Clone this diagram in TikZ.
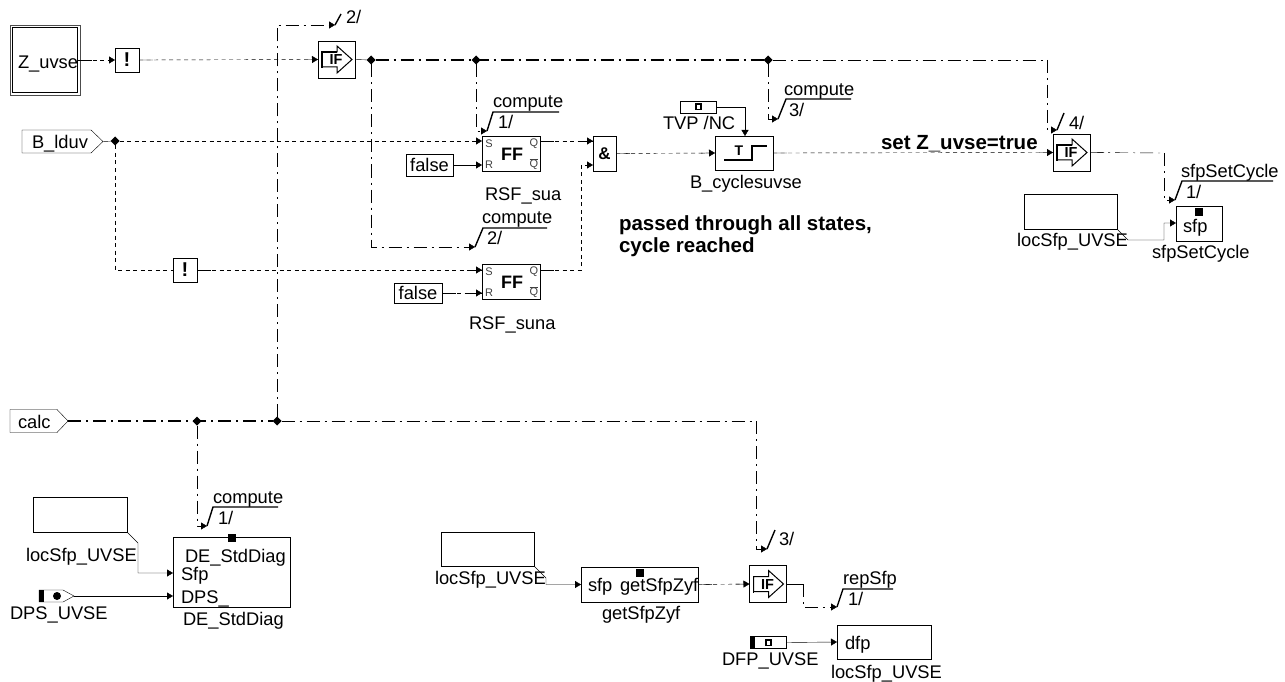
\documentclass[tikz,border=0pt]{standalone}
\usepackage{fontspec}
\setmainfont{Liberation Sans}
\usetikzlibrary{arrows.meta,calc,shapes.geometric}
\tikzset{
  x=1pt,y=-1pt,
  line width=1.4pt,
  blk/.style={draw,rectangle,inner sep=0pt,outer sep=0pt},
  txt/.style={inner sep=0pt,outer sep=0pt,font=\fontsize{18.3}{20}\selectfont},
  bold/.style={inner sep=0pt,outer sep=0pt,font=\fontsize{20.5}{22}\selectfont\bfseries},
  tiny/.style={inner sep=0pt,outer sep=0pt,text=black!75,font=\fontsize{11}{12}\selectfont},
  junc/.style={fill=black,shape=diamond,aspect=1,inner sep=0pt,outer sep=0pt,minimum size=9pt},
  tip/.style={-{Triangle[length=6pt,width=7pt]}},
  data/.style={dash pattern=on 4pt off 3.5pt},
  ctrl/.style={dash pattern=on 13pt off 5pt on 2pt off 5pt},
  ctrlb/.style={ctrl,line width=2pt},
  slash/.style={line width=1.4pt},
}
% box: name, x1,y1,x2,y2, text
\newcommand\bx[6]{\node[blk,anchor=north west,minimum width={(#4-#2)*1pt},minimum height={(#5-#3)*1pt}] (#1) at (#2,#3) {#6};}
\newcommand\lb[4]{\node[txt,anchor=mid west] (#1) at (#2,#3+4) {#4};}
% solid stub at the start of a dashed wire
\newcommand\stub[2]{\draw (#1) -- ($(#1)!14pt!(#2)$);}
% IF block with arrow icon, name, x1, y1
\newcommand\ifblk[3]{%
  \bx{#1}{#2}{#3}{#2+37}{#3+37}{}
  \draw[line width=1pt] ($(#1.north west)+(4,11)$) -- ++(15,0) -- ++(0,-6) -- ++(15,13.5) -- ++(-15,13.5) -- ++(0,-6) -- ++(-15,0) -- cycle;
  \draw[line width=1.8pt] ($(#1.north west)+(4,27)$) -- ++(0,-16) -- ++(15,0);
  \node[inner sep=0pt,font=\fontsize{14.5}{15}\selectfont\bfseries] at ($(#1.north west)+(18,19)$) {IF};
}
% FF block
\newcommand\ffblk[3]{%
  \bx{#1}{#2}{#3}{#2+58}{#3+35}{}
  \node[inner sep=0pt,font=\fontsize{18}{18}\selectfont\bfseries] at ($(#1.north west)+(30,18)$) {FF};
  \node[tiny] at ($(#1.north west)+(7,8)$) {S};
  \node[tiny] at ($(#1.north west)+(7,29)$) {R};
  \node[tiny] at ($(#1.north west)+(52,8)$) {Q};
  \node[tiny] at ($(#1.north west)+(52,28)$) {$\overline{\mbox{Q}}$};
}
% small value icon
\newcommand\icon[2]{%
  \fill (#1-3.5,#2-3.5) rectangle (#1+3.5,#2+3.5);
  \fill[white] (#1-1.5,#2-1.5) rectangle (#1+1.5,#2+2);
}
\begin{document}
\begin{tikzpicture}
\useasboundingbox (0,0) rectangle (1285,682);

% ---- blocks top
\bx{zuvse}{12.5}{27.5}{77.5}{92.5}{}
\draw[draw=black!70] (10.5,25) rectangle (80,95);
\lb{zuvsel}{18}{62}{Z\_uvse}
\bx{nota}{115}{48}{139}{72}{\fontsize{20}{20}\selectfont\bfseries !}
\ifblk{ifa}{318}{41}
\node[junc] (ja) at (371,60) {};
\node[junc] (jb) at (476,60) {};
\node[junc] (jc) at (768,60) {};

\draw (22,130) -- (91,130) -- (103,141.5) -- (91,153) -- (22,153) -- cycle;
\coordinate (blduv) at (103,141.5);
\lb{blduvl}{32}{142}{B\_lduv}
\node[junc] (jd) at (115,141) {};
\bx{notb}{173}{258}{197}{282}{\fontsize{20}{20}\selectfont\bfseries !}

\ffblk{ffa}{482}{136}
\ffblk{ffb}{482}{264}
\coordinate (ffaS) at (482,141);
\coordinate (ffaR) at (482,165);
\coordinate (ffaQ) at (540,141);
\coordinate (ffbS) at (482,270);
\coordinate (ffbR) at (482,293);
\coordinate (ffbQ) at (540,270);
\bx{fa}{406}{154}{453}{176}{\fontsize{18.3}{20}\selectfont false}
\bx{fb}{394}{283}{442}{303}{\fontsize{18.3}{20}\selectfont false}
\lb{rsfa}{485}{194}{RSF\_sua}
\lb{rsfb}{469}{323}{RSF\_suna}

\bx{andb}{593}{136}{616}{171}{\fontsize{17}{17}\selectfont\bfseries \&}
\coordinate (andA) at (593,141);
\coordinate (andB) at (593,165);

\bx{tb}{715}{136}{773}{170}{}
\draw[line width=1.8pt] (724,160) -- (752,160) -- (752,146) -- (767,146);
\node[inner sep=0pt,font=\fontsize{14}{14}\selectfont\bfseries] (tbT) at (739,151) {T};
\bx{tvp}{680}{101}{716}{113}{}
\icon{698}{107}
\lb{tvpl}{663}{123}{TVP /NC}
\coordinate (tvpk) at (745,107);
\coordinate (tbN) at (745,136);
\lb{bcy}{690}{182}{B\_cyclesuvse}

\ifblk{ifc}{1053}{134}
\node[bold,anchor=mid west] (setz) at (881,147) {set Z\_uvse=true};
\node[bold,anchor=mid west] (pa) at (619,228) {passed through all states,};
\node[bold,anchor=mid west] (pb) at (619,250) {cycle reached};

\bx{sfp}{1176}{206}{1222}{241}{}
\fill (1195,208) rectangle (1203,216);
\lb{sfpl}{1183}{226}{sfp}
\lb{sfpn}{1152}{252}{sfpSetCycle}
\coordinate (sfpW) at (1176,223);
\bx{loca}{1024}{194}{1117}{229}{}
\lb{locb}{1017}{240}{locSfp\_UVSE}

% ---- blocks bottom
\draw (10,409.5) -- (57,409.5) -- (68,421) -- (57,432.5) -- (10,432.5) -- cycle;
\coordinate (calc) at (68,421);
\lb{calcl}{18}{422}{calc}
\node[junc] (je) at (197,421) {};
\node[junc] (jf) at (277,421) {};

\bx{locc}{33}{497}{127}{532}{}
\lb{locd}{26}{555}{locSfp\_UVSE}
\bx{de}{173}{537}{290}{607}{}
\fill (228,534) rectangle (236,542);
\lb{dea}{185}{556}{DE\_StdDiag}
\lb{deb}{181}{574}{Sfp}
\lb{dec}{181}{597}{DPS\_}
\lb{ded}{183}{619}{DE\_StdDiag}
\coordinate (deS) at (173,573);
\coordinate (deD) at (173,596);

\draw (39,590) -- (63,590) -- (74,596) -- (63,602) -- (39,602) -- cycle;
\fill (39,590) rectangle (44,602);
\fill (57,596) circle (4);
\coordinate (dps) at (74,596);
\lb{dpsl}{10}{613}{DPS\_UVSE}

\bx{loce}{441}{532}{534}{566}{}
\lb{locf}{435}{578}{locSfp\_UVSE}
\bx{gs}{581}{567}{698}{602}{}
\fill (636,569) rectangle (644,577);
\lb{gsa}{588}{585}{sfp}
\lb{gsb}{620}{585}{getSfpZyf}
\lb{gsc}{602}{613}{getSfpZyf}
\ifblk{ifd}{749.5}{565.5}

\draw (750,636.5) rectangle (786,648.5);
\node[inner sep=0pt,outer sep=0pt,minimum width=36pt,minimum height=12pt] (dfpb) at (768,642.5) {};
\fill (750,636.5) rectangle (755,648.5);
\icon{768}{642.5}
\lb{dfpl}{722}{659}{DFP\_UVSE}
\bx{dfp}{837}{625}{931}{659}{}
\lb{dfpt}{845}{643}{dfp}
\lb{dfpn}{831}{672}{locSfp\_UVSE}

% ---- connectors top
\draw[tip,data] (zuvse.east) -- (nota.west);
\stub{zuvse.east}{nota.west}
\draw[tip,data] (nota.east) -- (ifa.west);
\stub{nota.east}{ifa.west}\stub{ifa.west}{nota.east}
\draw (ifa.east) -- (ja);
\draw[ctrlb] (ja) -- (jc);
\coordinate (cf) at (1047,60);
\draw[ctrl] (jc) -- (cf);
\draw (blduv) -- (jd);
\draw[tip,data] (jd) -- (ffaS);
\draw[data] (jd) |- (notb.west);
\draw[tip,data] (notb.east) -- (ffbS);
\stub{notb.east}{ffbS}\stub{ffbS}{notb.east}
\draw[tip] (fa.east) -- (ffaR);
\draw[tip,data] (fb.east) -- (ffbR);
\stub{fb.east}{ffbR}\stub{ffbR}{fb.east}
\draw[tip,data] (ffaQ) -- (andA);
\stub{ffaQ}{andA}\stub{andA}{ffaQ}
\coordinate (andk) at (581,270);
\draw[tip,data] (ffbQ) -- (andk) |- (andB);
\stub{ffbQ}{andk}
\draw[tip,data] (andb.east) -- (tb.west);
\stub{andb.east}{tb.west}\stub{tb.west}{andb.east}
\draw[tip,data] (tb.east) -- (ifc.west);
\stub{tb.east}{ifc.west}\stub{ifc.west}{tb.east}
\draw[tip] (tvp.east) -- (tvpk) -- (tbN);
\coordinate (ifck) at (1164,153);
\draw[ctrl] (ifc.east) -- (ifck);
\stub{ifc.east}{ifck}
% compute 1
\coordinate (c1a) at (487,131); \coordinate (c1b) at (493,112); \coordinate (c1c) at (559,112);
\draw[tip,ctrl] (jb) |- (c1a);
\draw[slash] (c1a) -- (c1b) -- (c1c);
\lb{c1l}{493}{101}{compute}
\lb{c1n}{498}{122}{1/}
% compute 2
\coordinate (c2a) at (475,247); \coordinate (c2b) at (483,228); \coordinate (c2c) at (547,228);
\draw[tip,ctrl] (ja) |- (c2a);
\draw[slash] (c2a) -- (c2b) -- (c2c);
\lb{c2l}{482}{217}{compute}
\lb{c2n}{487}{238}{2/}
% compute 3
\coordinate (c3a) at (778,119); \coordinate (c3b) at (786,99); \coordinate (c3c) at (851,99);
\draw[tip,ctrl] (jc) |- (c3a);
\draw[slash] (c3a) -- (c3b) -- (c3c);
\lb{c3l}{784}{89}{compute}
\lb{c3n}{789}{110}{3/}
% 4/
\coordinate (c4a) at (1057,130); \coordinate (c4b) at (1064,113);
\draw[tip,ctrl] (cf) |- (c4a);
\draw[slash] (c4a) -- (c4b);
\lb{c4n}{1069}{123}{4/}
% sfpSetCycle
\coordinate (c5a) at (1175,200); \coordinate (c5b) at (1182,181); \coordinate (c5c) at (1273,181);
\draw[tip,ctrl] (ifck) |- (c5a);
\draw[slash] (c5a) -- (c5b) -- (c5c);
\lb{c5l}{1181}{171}{sfpSetCycle}
\lb{c5n}{1186}{192}{1/}
% loc -> sfp
\coordinate (la) at (1128,240); \coordinate (lb) at (1164,240); \coordinate (lc) at (1164,223);
\draw[tip] (loca.south east) -- (la) -- (lb) -- (lc) -- (sfpW);

% ---- connectors bottom
\draw[ctrlb] (calc) -- (jf);
\coordinate (jg) at (756,421);
\draw[ctrl] (jf) -- (jg);
% 2/
\coordinate (t2a) at (335,25); \coordinate (t2b) at (341,14);
\draw[tip,ctrl] (jf) |- (t2a);
\draw[slash] (t2a) -- (t2b);
\lb{t2n}{346}{17}{2/}
% compute 1 bottom
\coordinate (d1a) at (207,526); \coordinate (d1b) at (213,507); \coordinate (d1c) at (278,507);
\draw[tip,ctrl] (je) |- (d1a);
\draw[slash] (d1a) -- (d1b) -- (d1c);
\lb{d1l}{213}{497}{compute}
\lb{d1n}{218}{518}{1/}
% 3/ bottom
\coordinate (d3a) at (767,549); \coordinate (d3b) at (775,530);
\draw[tip,ctrl] (jg) |- (d3a);
\draw[slash] (d3a) -- (d3b);
\lb{d3n}{779}{539}{3/}
\coordinate (loa) at (138,543); \coordinate (lob) at (138,573);
\draw[tip] (locc.south east) -- (loa) -- (lob) -- (deS);
\draw[tip] (dps) -- (deD);
\coordinate (lpa) at (546,578); \coordinate (lpb) at (546,584.5);
\draw[tip] (loce.south east) -- (lpa) -- (lpb) -- (gs.west);
\draw[tip,data] (gs.east) -- (ifd.west);
\stub{gs.east}{ifd.west}\stub{ifd.west}{gs.east}
% repSfp
\coordinate (rk) at (803,584); \coordinate (ra) at (837,607); \coordinate (rb) at (843,589); \coordinate (rc) at (893,589);
\draw (ifd.east) -- (rk);
\draw[tip,ctrl] (rk) |- (ra);
\draw[slash] (ra) -- (rb) -- (rc);
\lb{rl}{843}{578}{repSfp}
\lb{rn}{848}{599}{1/}
\draw[tip] (dfpb.east) -- (dfp.west);
\end{tikzpicture}
\end{document}
